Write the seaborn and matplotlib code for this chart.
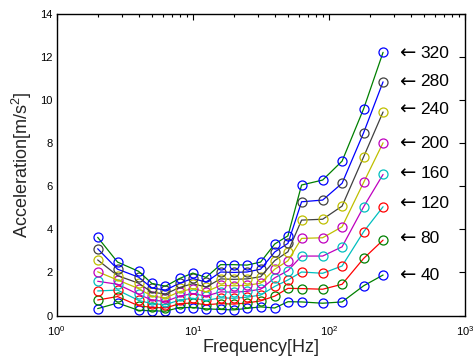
import numpy as np
import pandas as pd
import matplotlib
matplotlib.use("Agg")
import matplotlib.pyplot as plt
import seaborn as sns
from matplotlib.ticker import LogLocator, NullFormatter, FixedLocator

sns.set_style("white")
plt.rcParams['font.family'] = ['Liberation Sans', 'DejaVu Sans']
plt.rcParams['mathtext.fontset'] = 'custom'
plt.rcParams['mathtext.rm'] = 'Liberation Sans'

# Frequencies [Hz]
freq = [2, 2.8, 4, 5, 6.3, 8, 10, 12.5, 16, 20, 25, 31.5, 40, 50, 63, 90, 125, 180, 250]

# Level labels
levels = [40, 80, 120, 160, 200, 240, 280, 320]

# Acceleration values per level (m/s^2), one value per frequency
acc_40  = [0.32, 0.58, 0.24, 0.22, 0.20, 0.37, 0.37, 0.31, 0.28, 0.26, 0.33, 0.40, 0.35, 0.64, 0.63, 0.57, 0.63, 1.38, 1.88]
acc_80  = [0.72, 0.88, 0.45, 0.38, 0.35, 0.55, 0.58, 0.50, 0.55, 0.53, 0.58, 0.68, 0.90, 1.26, 1.25, 1.22, 1.45, 2.65, 3.50]
acc_120 = [1.14, 1.18, 0.70, 0.55, 0.50, 0.72, 0.80, 0.70, 0.82, 0.80, 0.85, 0.95, 1.35, 1.65, 2.02, 1.96, 2.30, 3.89, 5.05]
acc_160 = [1.59, 1.45, 0.98, 0.72, 0.65, 0.90, 1.02, 0.90, 1.10, 1.08, 1.12, 1.22, 1.75, 2.08, 2.76, 2.76, 3.19, 5.05, 6.55]
acc_200 = [2.03, 1.65, 1.25, 0.90, 0.82, 1.10, 1.25, 1.10, 1.40, 1.38, 1.40, 1.50, 2.15, 2.54, 3.58, 3.61, 4.12, 6.18, 8.02]
acc_240 = [2.58, 1.85, 1.50, 1.08, 1.00, 1.30, 1.48, 1.32, 1.70, 1.68, 1.70, 1.80, 2.55, 2.96, 4.43, 4.47, 5.08, 7.37, 9.45]
acc_280 = [3.10, 2.15, 1.78, 1.28, 1.18, 1.50, 1.72, 1.55, 2.02, 2.00, 2.02, 2.15, 2.95, 3.35, 5.28, 5.36, 6.14, 8.49, 10.85]
acc_320 = [3.63, 2.48, 2.05, 1.49, 1.36, 1.72, 1.97, 1.77, 2.36, 2.36, 2.34, 2.48, 3.32, 3.70, 6.06, 6.29, 7.17, 9.60, 12.22]

series = [acc_40, acc_80, acc_120, acc_160, acc_200, acc_240, acc_280, acc_320]

# MATLAB classic colours
mb = (0, 0, 1); mg = (0, 0.5, 0); mr = (1, 0, 0); mc = (0, 0.75, 0.75)
mm = (0.75, 0, 0.75); my = (0.75, 0.75, 0); mk = (0.25, 0.25, 0.25)
marker_colors = [mb, mg, mr, mc, mm, my, mk, mb]
line_colors = [mg, mr, mc, mm, my, mk, mb, mg]

# label y positions for the right-side annotations
label_y = [1.88, 3.58, 5.21, 6.60, 8.00, 9.57, 10.85, 12.17]

rows = []
for lev, vals in zip(levels, series):
    for f, v in zip(freq, vals):
        rows.append({"freq": f, "acc": v, "level": lev})
df = pd.DataFrame(rows)

fig = plt.figure(figsize=(4.74, 3.64), dpi=100)
ax = fig.add_axes([56.7/474, (364-315.5)/364, (465-56.7)/474, (315.5-14)/364])

for i, lev in enumerate(levels):
    d = df[df["level"] == lev]
    sns.lineplot(data=d, x="freq", y="acc", ax=ax, color=line_colors[i],
                 linewidth=0.9, estimator=None, sort=False, legend=False)
    sns.lineplot(data=d, x="freq", y="acc", ax=ax, color=marker_colors[i],
                 linestyle='', marker='o', markersize=6.5, markerfacecolor='none',
                 markeredgecolor=marker_colors[i], markeredgewidth=0.9,
                 estimator=None, sort=False, legend=False)

for lev, y in zip(levels, label_y):
    ax.text(330, y, "\u2190", fontsize=14, va='center', ha='left',
            color='black', family=['DejaVu Sans'])
    ax.text(472, y, str(lev), fontsize=12.5, va='center', ha='left',
            color='black')

ax.set_xscale('log')
ax.set_xlim(1, 1000)
ax.set_ylim(0, 14)
ax.set_yticks([0, 2, 4, 6, 8, 10, 12, 14])
ax.xaxis.set_major_locator(FixedLocator([1, 10, 100, 1000]))
ax.xaxis.set_minor_locator(LogLocator(base=10, subs=np.arange(2, 10)))
ax.xaxis.set_minor_formatter(NullFormatter())
ax.set_xticklabels([r"$10^0$", r"$10^1$", r"$10^2$", r"$10^3$"])

ax.tick_params(axis='both', which='both', direction='in', top=True, right=True,
               labelsize=8, colors='black', width=0.8)
ax.tick_params(axis='both', which='major', length=4)
ax.tick_params(axis='x', which='major', pad=6)
ax.tick_params(axis='y', which='major', pad=3)
ax.tick_params(axis='x', which='minor', length=2.5)
for s in ax.spines.values():
    s.set_color('black')
    s.set_linewidth(1.0)

ax.set_xlabel("Frequency[Hz]", fontsize=13, labelpad=1)
ax.set_ylabel(r"Acceleration[m/s$^2$]", fontsize=13, labelpad=4)
ax.grid(False)

fig.savefig("out.png", dpi=100)
